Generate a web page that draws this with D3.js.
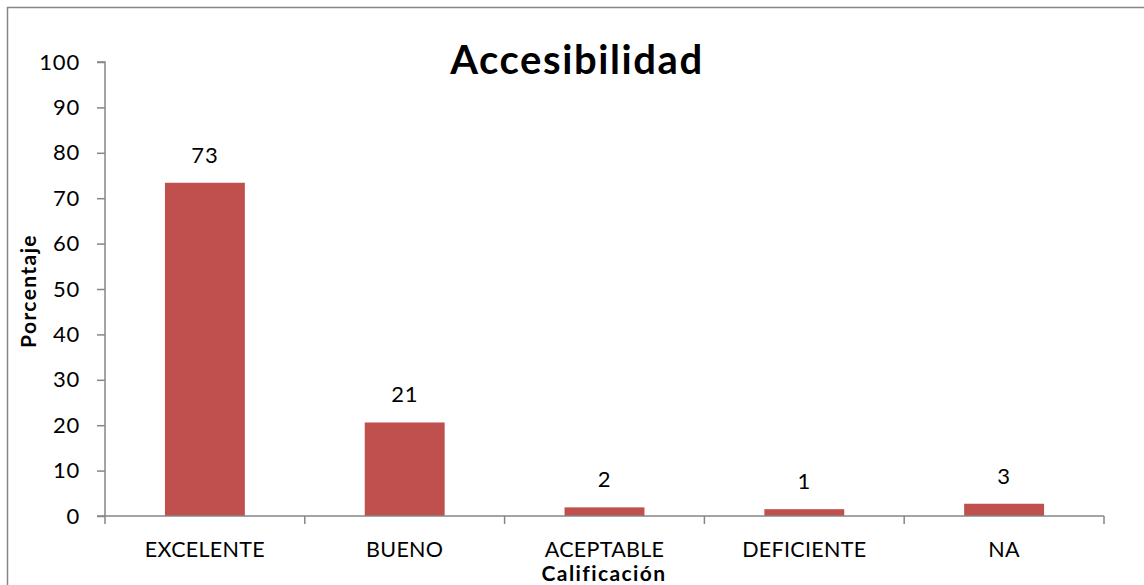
<!DOCTYPE html>
<html><head><meta charset="utf-8">
<script src="https://cdn.jsdelivr.net/npm/d3@7"></script>
<style>body{margin:0;background:#fff;}svg{display:block;font-family:Lato,"Open Sans",sans-serif;}</style>
</head><body>
<svg id="c" width="1144" height="585"></svg>
<script>
const categories = ["EXCELENTE","BUENO","ACEPTABLE","DEFICIENTE","NA"];
const values = [73.4, 20.6, 1.9, 1.5, 2.7];
const valueLabels = ["73","21","2","1","3"];
const yTicks = [0,10,20,30,40,50,60,70,80,90,100];
const title = "Accesibilidad";
const yTitle = "Porcentaje";
const xTitle = "Calificación";

(function(){
const svg = d3.select("#c");
svg.append("rect").attr("x",7.5).attr("y",7.5).attr("width",1160).attr("height",600)
  .attr("fill","#fff").attr("stroke","#868686").attr("stroke-width",1.5);

const pL=105, pR=1104, pT=62, pB=516;
const x = d3.scaleBand().domain(categories).range([pL,pR]).paddingInner(0.6).paddingOuter(0.3);
const xb = d3.scaleBand().domain(categories).range([pL,pR]);
const y = d3.scaleLinear().domain([0,100]).range([pB,pT]);

// bars
svg.selectAll("rect.bar").data(categories).join("rect").attr("class","bar")
  .attr("x",d=>x(d)).attr("width",x.bandwidth())
  .attr("y",(d,i)=>y(values[i])).attr("height",(d,i)=>pB-y(values[i]))
  .attr("fill","#C0504D");

// y axis
const ya = svg.append("g").attr("transform",`translate(${pL},0)`)
  .call(d3.axisLeft(y).tickValues(yTicks).tickSize(8).tickPadding(17));
ya.select(".domain").attr("stroke","#868686").attr("stroke-width",1.5).attr("d",`M-8,${pT}H0V${pB}H-8`);
ya.selectAll(".tick line").attr("stroke","#868686").attr("stroke-width",1.5);
ya.selectAll(".tick text").attr("font-size",22).attr("fill","#000").attr("font-family","Lato")
  .attr("letter-spacing",0.8);

// x axis
const xa = svg.append("g").attr("transform",`translate(0,${pB})`);
xa.append("path").attr("d",`M${pL},0H${pR}`).attr("stroke","#868686").attr("stroke-width",1.5);
const bounds = categories.map(c=>xb(c)).concat([xb(categories[categories.length-1])+xb.bandwidth()]);
xa.selectAll("line.t").data(bounds).join("line").attr("class","t")
  .attr("x1",d=>d).attr("x2",d=>d).attr("y1",0).attr("y2",8)
  .attr("stroke","#868686").attr("stroke-width",1.5);
xa.selectAll("text.cl").data(categories).join("text").attr("class","cl")
  .attr("x",d=>xb(d)+xb.bandwidth()/2).attr("y",41)
  .attr("text-anchor","middle").attr("font-size",21.5).attr("letter-spacing",0.3).text(d=>d);

// value labels
svg.selectAll("text.vl").data(categories).join("text").attr("class","vl")
  .attr("x",d=>x(d)+x.bandwidth()/2).attr("y",(d,i)=>y(values[i])-20)
  .attr("text-anchor","middle").attr("font-size",22).attr("letter-spacing",0.8).text((d,i)=>valueLabels[i]);

// titles
svg.append("text").attr("x",577).attr("y",74).attr("text-anchor","middle")
  .attr("font-size",40).attr("font-weight","bold").attr("letter-spacing",1.6).text(title);
svg.append("text").attr("transform","translate(36,291) rotate(-90)").attr("text-anchor","middle")
  .attr("font-size",21).attr("font-weight","bold").attr("letter-spacing",1.4).text(yTitle);
svg.append("text").attr("x",604).attr("y",581).attr("text-anchor","middle")
  .attr("font-size",21).attr("font-weight","bold").attr("letter-spacing",1.4).text(xTitle);
})();
</script>
</body></html>
